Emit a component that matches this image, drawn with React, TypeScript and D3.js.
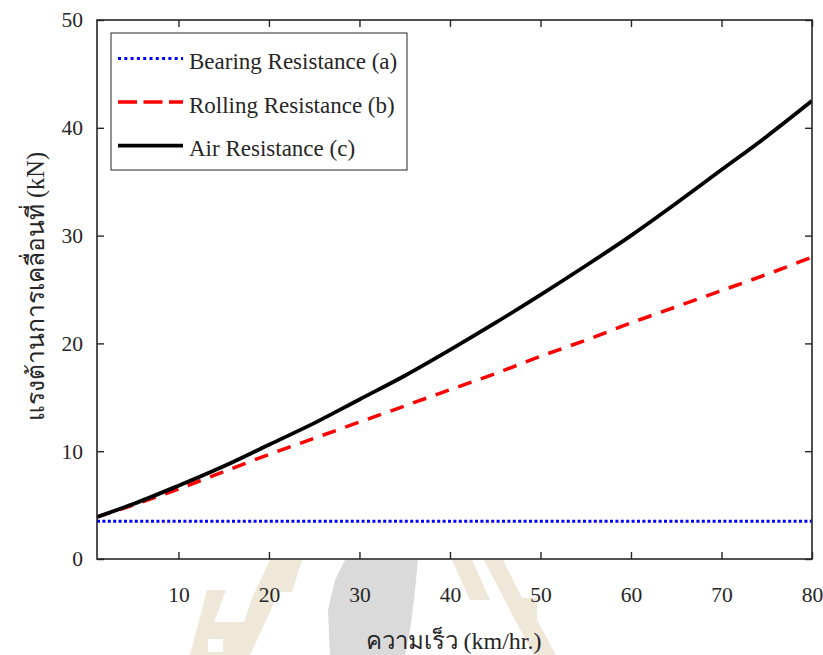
import React, { useEffect, useRef } from 'react';
import * as d3 from 'd3';

// speed (km/hr.) sample points
const speeds = [1, 5, 10, 15, 20, 25, 30, 35, 40, 45, 50, 55, 60, 65, 70, 75, 80];
// resistance values in kN
const bearing = [3.5, 3.5, 3.5, 3.5, 3.5, 3.5, 3.5, 3.5, 3.5, 3.5, 3.5, 3.5, 3.5, 3.5, 3.5, 3.5, 3.5];
const rolling = [3.9, 5.0, 6.5, 8.1, 9.7, 11.2, 12.7, 14.2, 15.7, 17.2, 18.8, 20.3, 21.9, 23.4, 24.9, 26.4, 28.0];
const air = [3.9, 5.1, 6.8, 8.6, 10.6, 12.6, 14.8, 17.0, 19.4, 21.9, 24.5, 27.2, 30.0, 33.0, 36.1, 39.2, 42.5];

const xTicks = [10, 20, 30, 40, 50, 60, 70, 80];
const yTicks = [0, 10, 20, 30, 40, 50];
const legendLabels = ['Bearing Resistance (a)', 'Rolling Resistance (b)', 'Air Resistance (c)'];

const W = 823;
const H = 655;
const FONT = '"Liberation Serif", "Times New Roman", serif';
const AXIS = '#262626';

export default function App() {
  const svgRef = useRef<SVGSVGElement>(null);

  useEffect(() => {
    if (!svgRef.current) return;
    const svg = d3.select(svgRef.current);
    svg.selectAll('*').remove();

    const margin = { top: 20, right: 11, bottom: 96, left: 97 };
    const width = W - margin.left - margin.right;
    const height = H - margin.top - margin.bottom;

    // faint watermark behind the figure
    const wm = svg.append('g');
    wm.append('path')
      .attr('d', 'M345,560 L418,560 L414,600 L410,630 L405,655 L330,655 L328,610 L335,580 Z')
      .attr('fill', '#dadada');
    const gold = '#efe7d8';
    [
      'M207,590 L226,590 L214,622 L244,622 L252,598 L270,560 L292,560 L270,612 L250,655 L190,655 Z',
      'M283,560 L302,560 L292,592 L276,592 Z',
      'M452,560 L472,560 L490,600 L470,600 Z',
      'M484,560 L503,560 L522,598 L537,598 L537,620 L556,655 L534,655 L515,620 Z',
    ].forEach((d) => wm.append('path').attr('d', d).attr('fill', gold));
    wm.append('rect').attr('x', 208).attr('y', 639).attr('width', 15).attr('height', 13).attr('fill', 'white');

    const g = svg.append('g').attr('transform', `translate(${margin.left},${margin.top})`);

    const x = d3.scaleLinear().domain([1, 80]).range([0, width]);
    const y = d3.scaleLinear().domain([0, 50]).range([height, 0]);

    g.append('rect').attr('width', width).attr('height', height).attr('fill', 'white');

    g.append('clipPath').attr('id', 'plot-clip')
      .append('rect').attr('width', width).attr('height', height);

    const line = d3.line<number>()
      .x((_, i) => x(speeds[i]))
      .y((d) => y(d))
      .curve(d3.curveMonotoneX);

    const series = [
      { values: bearing, color: '#0000ff', width: 3, dash: '3,2.4' },
      { values: rolling, color: '#ff0000', width: 3.5, dash: '14,10' },
      { values: air, color: '#000000', width: 3.8, dash: null },
    ];

    const lines = g.append('g').attr('clip-path', 'url(#plot-clip)');
    series.forEach((s) => {
      lines.append('path')
        .datum(s.values)
        .attr('d', line)
        .attr('fill', 'none')
        .attr('stroke', s.color)
        .attr('stroke-width', s.width)
        .attr('stroke-dasharray', s.dash);
    });

    // axes, ticks pointing inward (MATLAB style)
    const styleAxis = (sel: d3.Selection<SVGGElement, unknown, null, undefined>) => {
      sel.select('.domain').remove();
      sel.selectAll('line').attr('stroke', AXIS).attr('stroke-width', 1.4);
      sel.selectAll('text').attr('fill', AXIS).style('font-family', FONT).style('font-size', '21.5px');
    };

    g.append('g')
      .attr('transform', `translate(0,${height})`)
      .call(d3.axisBottom(x).tickValues(xTicks).tickSize(-7).tickPadding(28).tickFormat(d3.format('d')))
      .call(styleAxis);
    g.append('g')
      .call(d3.axisTop(x).tickValues(xTicks).tickSize(-7).tickFormat(() => ''))
      .call(styleAxis);
    g.append('g')
      .call(d3.axisLeft(y).tickValues(yTicks).tickSize(-7).tickPadding(14).tickFormat(d3.format('d')))
      .call(styleAxis);
    g.append('g')
      .attr('transform', `translate(${width},0)`)
      .call(d3.axisRight(y).tickValues(yTicks).tickSize(-7).tickFormat(() => ''))
      .call(styleAxis);

    g.append('rect')
      .attr('width', width).attr('height', height)
      .attr('fill', 'none').attr('stroke', AXIS).attr('stroke-width', 1.6);

    // legend
    const leg = svg.append('g').attr('transform', 'translate(111,33)');
    leg.append('rect').attr('width', 296).attr('height', 137)
      .attr('fill', 'white').attr('stroke', AXIS).attr('stroke-width', 1);
    const legendDash = ['3,3.3', '19,6.5', null];
    legendLabels.forEach((label, i) => {
      const cy = 25.5 + i * 43.6;
      leg.append('line')
        .attr('x1', 7).attr('x2', 72).attr('y1', cy).attr('y2', cy)
        .attr('stroke', series[i].color)
        .attr('stroke-width', series[i].width)
        .attr('stroke-dasharray', legendDash[i]);
      leg.append('text')
        .attr('x', 78).attr('y', cy + 10.7)
        .attr('fill', AXIS)
        .style('font-family', FONT).style('font-size', '23px')
        .text(label);
    });

    // axis titles
    svg.append('text')
      .attr('x', margin.left + width / 2 - 1).attr('y', 649)
      .attr('text-anchor', 'middle')
      .attr('fill', AXIS)
      .style('font-family', FONT).style('font-size', '24px')
      .text('ความเร็ว (km/hr.)');
    svg.append('text')
      .attr('transform', `translate(44,${margin.top + height / 2 - 3}) rotate(-90)`)
      .attr('text-anchor', 'middle')
      .attr('fill', AXIS)
      .style('font-family', FONT).style('font-size', '24.5px')
      .text('แรงต้านการเคลื่อนที่ (kN)');
  }, []);

  return (
    <svg
      ref={svgRef}
      width={W}
      height={H}
      style={{ position: 'absolute', left: 0, top: 0, background: 'white' }}
    />
  );
}
